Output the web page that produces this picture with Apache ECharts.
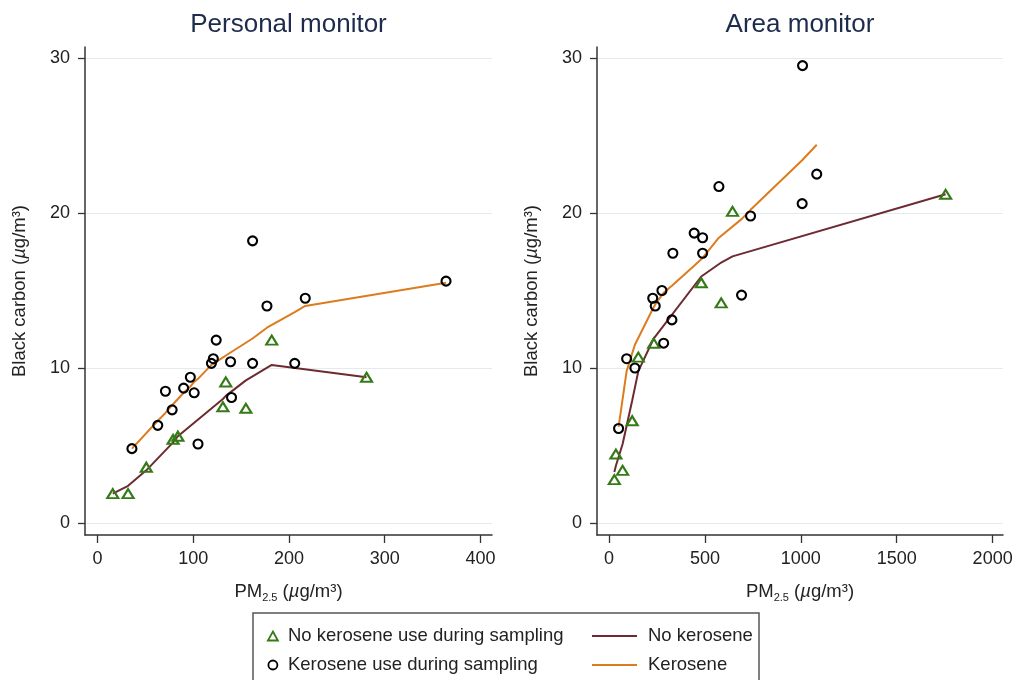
<!DOCTYPE html>
<html><head><meta charset="utf-8">
<script src="https://cdn.jsdelivr.net/npm/echarts@6/dist/echarts.min.js"></script>
<style>html,body{margin:0;padding:0;background:#fff}#c{width:1013px;height:680px}</style>
</head><body><div id="c"></div>
<script>
const panelTitles = ['Personal monitor', 'Area monitor'];
const personalXTicks = [0, 100, 200, 300, 400];
const areaXTicks = [0, 500, 1000, 1500, 2000];
const yTicks = [0, 10, 20, 30];

const seriesNames = ['No kerosene use during sampling', 'Kerosene use during sampling', 'No kerosene', 'Kerosene'];

// Personal monitor: [PM2.5, black carbon]
const personalNoKero = [[16,1.9],[32,1.9],[51,3.6],[79,5.4],[84,5.6],[131,7.5],[134,9.1],[155,7.4],[182,11.8],[281,9.4]];
const personalKero = [[36,4.8],[63,6.3],[71,8.5],[78,7.3],[90,8.7],[97,9.4],[101,8.4],[105,5.1],[119,10.3],[121,10.6],[124,11.8],[139,10.4],[140,8.1],[162,18.2],[162,10.3],[177,14.0],[206,10.3],[217,14.5],[364,15.6]];
const personalNoKeroFit = [[16,1.9],[32,2.4],[51,3.4],[79,5.2],[84,5.6],[131,8.0],[134,8.2],[155,9.2],[182,10.2],[281,9.4]];
const personalKeroFit = [[36,4.8],[63,6.6],[71,7.1],[78,7.6],[90,8.4],[97,8.8],[101,9.1],[105,9.3],[119,10.2],[124,10.4],[139,11.0],[162,11.9],[177,12.6],[206,13.6],[217,14.0],[364,15.5]];

// Area monitor
const areaNoKero = [[28,2.8],[36,4.45],[71,3.4],[121,6.6],[153,10.7],[233,11.6],[481,15.5],[585,14.2],[644,20.1],[1755,21.2]];
const areaKero = [[50,6.1],[92,10.6],[135,10.0],[228,14.5],[241,14.0],[276,15.0],[285,11.6],[328,13.1],[333,17.4],[444,18.7],[488,18.4],[488,17.4],[573,21.7],[691,14.7],[738,19.8],[1007,20.6],[1009,29.5],[1083,22.5]];
const areaNoKeroFit = [[28,3.3],[36,3.7],[71,5.1],[121,7.9],[153,9.8],[233,11.9],[481,15.9],[585,16.8],[644,17.2],[1755,21.2]];
const areaKeroFit = [[50,6.2],[92,9.8],[135,11.5],[228,13.8],[241,14.1],[276,14.7],[285,14.85],[328,15.3],[333,15.4],[444,16.6],[488,17.1],[573,18.4],[691,19.6],[738,20.2],[1007,23.4],[1083,24.4]];

const FONT = '"Liberation Sans", Arial, Helvetica, sans-serif';
const AXIS_COLOR = '#333';
const GREEN = '#357a18';
const BLACK = '#000';
const BROWN = '#6d2a30';
const ORANGE = '#dd7b1f';
const GRID_COLOR = '#e3ebee';

const rich = {
  a: {fontSize: 18.5, fontFamily: FONT, color: '#222', lineHeight: 22},
  s: {fontSize: 11, fontFamily: FONT, color: '#222', verticalAlign: 'bottom', lineHeight: 16},
  i: {fontSize: 18.5, fontFamily: FONT, color: '#222', fontStyle: 'italic', lineHeight: 22}
};
const xName = '{a|PM}{s|2.5}{a| (}{i|\u00b5}{a|g/m\u00b3)}';
const yName = '{a|Black carbon (}{i|\u00b5}{a|g/m\u00b3)}';

function xAxis(gi, min, max, ticks) {
  return {
    gridIndex: gi, type: 'value', min: min, max: max,
    axisLine: {show: true, onZero: false, lineStyle: {color: AXIS_COLOR, width: 1.5}},
    axisTick: {show: true, length: 8, customValues: ticks, lineStyle: {color: AXIS_COLOR, width: 1.3}},
    axisLabel: {customValues: ticks, fontSize: 18, fontFamily: FONT, color: '#222', margin: 15, formatter: function (v) { return String(v); }},
    splitLine: {show: false},
    name: xName, nameLocation: 'middle', nameGap: 46,
    nameTextStyle: {rich: rich}
  };
}
function yAxis(gi) {
  return {
    gridIndex: gi, type: 'value', min: -0.77, max: 30.7,
    axisLine: {show: true, onZero: false, lineStyle: {color: AXIS_COLOR, width: 1.5}},
    axisTick: {show: true, length: 7, customValues: yTicks, lineStyle: {color: AXIS_COLOR, width: 1.3}},
    axisLabel: {customValues: yTicks, fontSize: 18, fontFamily: FONT, color: '#222', margin: 15},
    splitLine: {show: true, lineStyle: {color: GRID_COLOR, width: 1.2}},
    name: yName, nameLocation: 'middle', nameGap: 54,
    nameTextStyle: {rich: rich}
  };
}
function scatter(name, gi, data, symbol, size, color) {
  return {
    name: name, type: 'scatter', xAxisIndex: gi, yAxisIndex: gi, data: data,
    symbol: symbol, symbolSize: size, z: 5,
    itemStyle: {color: 'rgba(0,0,0,0)', borderColor: color, borderWidth: 2.1, opacity: 1},
    emphasis: {disabled: true}
  };
}
function fit(name, gi, data, color) {
  return {
    name: name, type: 'line', xAxisIndex: gi, yAxisIndex: gi, data: data,
    symbol: 'none', showSymbol: false, z: 3, color: color,
    lineStyle: {color: color, width: 2},
    emphasis: {disabled: true}
  };
}

const chart = echarts.init(document.getElementById('c'), null, {renderer: 'canvas'});
chart.setOption({
  animation: false,
  backgroundColor: '#fff',
  textStyle: {fontFamily: FONT},
  grid: [
    {left: 85, top: 47, width: 407, height: 488, containLabel: false, outerBoundsMode: 'none'},
    {left: 597, top: 47, width: 406, height: 488, containLabel: false, outerBoundsMode: 'none'}
  ],
  xAxis: [xAxis(0, -13, 412, personalXTicks), xAxis(1, -62.5, 2054, areaXTicks)],
  yAxis: [yAxis(0), yAxis(1)],
  legend: [
    {
      orient: 'vertical', left: 262, top: 621, itemGap: 9, itemWidth: 10, itemHeight: 9,
      textStyle: {fontSize: 18.5, fontFamily: FONT, color: '#222', lineHeight: 20, padding: [0, 0, 0, 5]},
      selectedMode: false,
      data: [
        {name: seriesNames[0], icon: 'triangle', itemStyle: {color: 'rgba(0,0,0,0)', borderColor: GREEN, borderWidth: 1.8}},
        {name: seriesNames[1], icon: 'circle', itemStyle: {color: 'rgba(0,0,0,0)', borderColor: BLACK, borderWidth: 1.8}}
      ]
    },
    {
      orient: 'vertical', left: 587, top: 621, itemGap: 9, itemWidth: 45, itemHeight: 2,
      textStyle: {fontSize: 18.5, fontFamily: FONT, color: '#222', lineHeight: 20, padding: [0, 0, 0, 6]},
      selectedMode: false,
      data: [
        {name: seriesNames[2], icon: 'rect', itemStyle: {color: BROWN}},
        {name: seriesNames[3], icon: 'rect', itemStyle: {color: ORANGE}}
      ]
    }
  ],
  graphic: [
    {type: 'text', x: 288.5, y: 25, style: {text: panelTitles[0], fontSize: 26, fontFamily: FONT, fill: '#1d2b4c', align: 'center', verticalAlign: 'middle'}},
    {type: 'text', x: 800, y: 25, style: {text: panelTitles[1], fontSize: 26, fontFamily: FONT, fill: '#1d2b4c', align: 'center', verticalAlign: 'middle'}},
    {type: 'rect', shape: {x: 253, y: 613, width: 506, height: 100}, style: {fill: 'none', stroke: '#555', lineWidth: 1.5}, z: -1}
  ],
  series: [
    fit(seriesNames[2], 0, personalNoKeroFit, BROWN),
    fit(seriesNames[3], 0, personalKeroFit, ORANGE),
    scatter(seriesNames[0], 0, personalNoKero, 'triangle', [11, 9], GREEN),
    scatter(seriesNames[1], 0, personalKero, 'circle', 9, BLACK),
    fit(seriesNames[2], 1, areaNoKeroFit, BROWN),
    fit(seriesNames[3], 1, areaKeroFit, ORANGE),
    scatter(seriesNames[0], 1, areaNoKero, 'triangle', [11, 9], GREEN),
    scatter(seriesNames[1], 1, areaKero, 'circle', 9, BLACK)
  ]
});
</script>
</body></html>
